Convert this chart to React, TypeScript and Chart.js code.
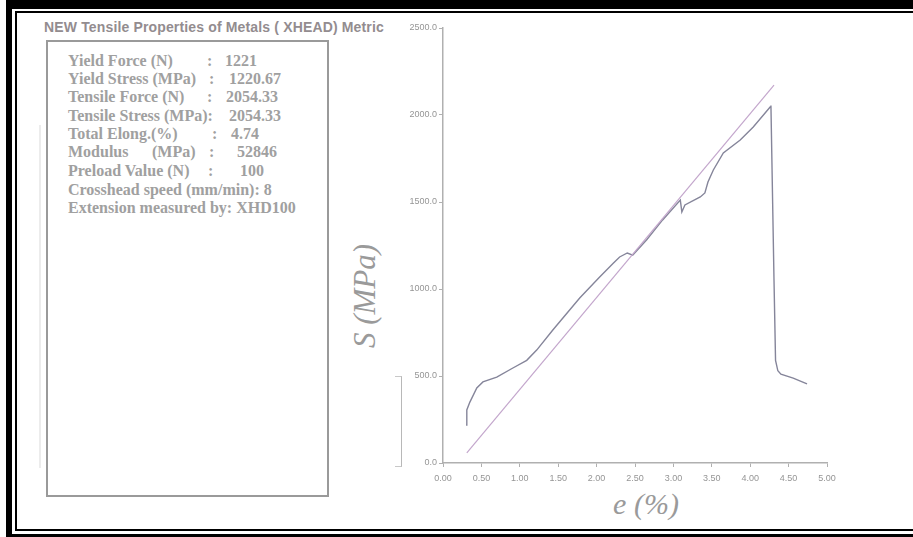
import React, { useEffect, useRef } from "react";
import { Chart, registerables } from "chart.js";

Chart.register(...registerables);

// Measured stress–strain curve: strain (%) and stress (MPa)
const strainPct = [
  0.3, 0.31, 0.35, 0.44, 0.52, 0.7, 0.91, 1.09, 1.22, 1.43, 1.78, 2.04, 2.22,
  2.3, 2.4, 2.47, 2.65, 2.86, 3.09, 3.11, 3.15, 3.35, 3.41, 3.45, 3.52, 3.65,
  3.87, 4.04, 4.26, 4.27, 4.31, 4.33, 4.36, 4.4, 4.56, 4.74,
];
const stressMPa = [
  218, 305, 350, 431, 466, 494, 546, 590, 649, 764, 948, 1069, 1149, 1184,
  1207, 1195, 1282, 1397, 1511, 1443, 1483, 1529, 1552, 1615, 1684, 1782,
  1856, 1931, 2046, 2054.33, 1050, 590, 530, 510, 488, 455,
];

// Modulus fit line end points (slope ≈ 528 MPa per % → 52846 MPa)
const modulusStrain = [0.31, 4.31];
const modulusStress = [58, 2172];

// Axis ticks
const xTickValues = [0, 0.5, 1, 1.5, 2, 2.5, 3, 3.5, 4, 4.5, 5];
const yTickValues = [0, 500, 1000, 1500, 2000, 2500];

// Test result summary
const summaryTitle = "NEW Tensile Properties of Metals ( XHEAD) Metric";
const summaryLabels = [
  "Yield Force (N)",
  "Yield Stress (MPa)",
  "Tensile Force (N)",
  "Tensile Stress (MPa):",
  "Total Elong.(%)",
  "Modulus",
  "Preload Value (N)",
  "Crosshead speed (mm/min): 8",
  "Extension measured by: XHD100",
];
const summaryValues = ["1221", "1220.67", "2054.33", "2054.33", "4.74", "52846", "100", "", ""];
const colonX = [207, 209, 207, 0, 212, 209, 208, 0, 0];
const valueX = [225, 229, 226, 229, 231, 237, 240, 0, 0];

const W = 913;
const H = 537;

function StressStrainCanvas() {
  const ref = useRef<HTMLCanvasElement | null>(null);
  useEffect(() => {
    if (!ref.current) return;
    const curve = strainPct.map((x, i) => ({ x, y: stressMPa[i] }));
    const fit = modulusStrain.map((x, i) => ({ x, y: modulusStress[i] }));
    const tickFont = { family: "'Liberation Sans', Arial, sans-serif", size: 9 };
    const chart = new Chart(ref.current, {
      type: "scatter",
      data: {
        datasets: [
          {
            data: fit,
            showLine: true,
            borderColor: "#c3a6cc",
            borderWidth: 1.2,
            pointRadius: 0,
            tension: 0,
          },
          {
            data: curve,
            showLine: true,
            borderColor: "#85859a",
            borderWidth: 1.4,
            pointRadius: 0,
            tension: 0,
          },
        ],
      },
      options: {
        responsive: false,
        animation: false,
        events: [],
        layout: { padding: { left: 403, right: 86, top: 28, bottom: 44 } },
        plugins: { legend: { display: false }, tooltip: { enabled: false } },
        scales: {
          x: {
            type: "linear",
            min: 0,
            max: 5,
            afterFit: (s: any) => {
              s.height = 30;
            },
            afterBuildTicks: (s: any) => {
              s.ticks = xTickValues.map((v) => ({ value: v }));
            },
            ticks: {
              color: "#959595",
              font: tickFont,
              padding: 6,
              maxRotation: 0,
              callback: (v: any) => Number(v).toFixed(2),
            },
            grid: { drawOnChartArea: false, drawTicks: true, tickLength: 4, color: "#b0b0b0" },
            border: { color: "#b0b0b0", width: 1.5 },
          },
          y: {
            type: "linear",
            min: 0,
            max: 2500,
            afterFit: (s: any) => {
              s.width = 40;
            },
            afterBuildTicks: (s: any) => {
              s.ticks = yTickValues.map((v) => ({ value: v }));
            },
            ticks: {
              color: "#959595",
              font: tickFont,
              padding: 2,
              callback: (v: any) => Number(v).toFixed(1),
            },
            grid: { drawOnChartArea: false, drawTicks: true, tickLength: 4, color: "#b0b0b0" },
            border: { color: "#b0b0b0", width: 1.5 },
          },
        },
      },
    });
    return () => chart.destroy();
  }, []);
  return (
    <canvas
      ref={ref}
      width={W}
      height={H}
      style={{ position: "absolute", left: 0, top: 0, width: W, height: H }}
    />
  );
}

export default function App() {
  const serif = "'Liberation Serif', 'Times New Roman', serif";
  const rowTop = [52, 70, 88, 107, 125, 143, 162, 181, 199];
  const bodyText = {
    position: "absolute" as const,
    fontFamily: serif,
    fontWeight: "bold" as const,
    fontSize: 16,
    color: "#a0a0a0",
    whiteSpace: "pre" as const,
  };
  return (
    <div
      style={{
        position: "absolute",
        left: 0,
        top: 0,
        width: W,
        height: H,
        overflow: "hidden",
        background: "#ffffff",
      }}
    >
      {/* double black frame */}
      <div
        style={{
          position: "absolute",
          left: 6,
          top: 0,
          width: 1000,
          height: 541,
          boxSizing: "border-box",
          borderTop: "9px solid #000",
          borderLeft: "6px solid #000",
          borderBottom: "7px solid #000",
        }}
      />
      <div
        style={{
          position: "absolute",
          left: 15,
          top: 11,
          width: 1000,
          height: 520,
          boxSizing: "border-box",
          border: "2px solid #000",
        }}
      />

      {/* faint guide marks */}
      <div style={{ position: "absolute", left: 39, top: 125, width: 2, height: 343, background: "#ececec" }} />
      <div
        style={{
          position: "absolute",
          left: 395,
          top: 376,
          width: 7,
          height: 91,
          boxSizing: "border-box",
          borderTop: "1px solid #c8c8c8",
          borderRight: "1.5px solid #b8b8b8",
          borderBottom: "1px solid #c8c8c8",
        }}
      />

      {/* summary panel */}
      <div
        style={{
          position: "absolute",
          left: 44,
          top: 19,
          fontFamily: "'Liberation Sans', Arial, sans-serif",
          fontWeight: "bold",
          fontSize: 14,
          letterSpacing: 0.15,
          color: "#938c8f",
          whiteSpace: "pre",
        }}
      >
        {summaryTitle}
      </div>
      <div
        style={{
          position: "absolute",
          left: 46,
          top: 40,
          width: 283,
          height: 457,
          boxSizing: "border-box",
          border: "2px solid #9a9a9a",
        }}
      />
      {summaryLabels.map((label, i) => (
        <React.Fragment key={i}>
          <div style={{ ...bodyText, left: 68, top: rowTop[i] }}>{label}</div>
          {i === 5 && <div style={{ ...bodyText, left: 152, top: rowTop[i] }}>(MPa)</div>}
          {colonX[i] > 0 && <div style={{ ...bodyText, left: colonX[i], top: rowTop[i] }}>:</div>}
          {summaryValues[i] && (
            <div style={{ ...bodyText, left: valueX[i], top: rowTop[i] }}>{summaryValues[i]}</div>
          )}
        </React.Fragment>
      ))}

      {/* axis titles */}
      <div
        style={{
          position: "absolute",
          left: 365,
          top: 296,
          transform: "translate(-50%, -50%) rotate(-90deg)",
          fontFamily: serif,
          fontStyle: "italic",
          fontSize: 31,
          color: "#9a9a9a",
          whiteSpace: "pre",
        }}
      >
        S (MPa)
      </div>
      <div
        style={{
          position: "absolute",
          left: 646,
          top: 504,
          transform: "translate(-50%, -50%)",
          fontFamily: serif,
          fontStyle: "italic",
          fontSize: 30,
          color: "#9a9a9a",
          whiteSpace: "pre",
        }}
      >
        e (%)
      </div>

      <StressStrainCanvas />
    </div>
  );
}
